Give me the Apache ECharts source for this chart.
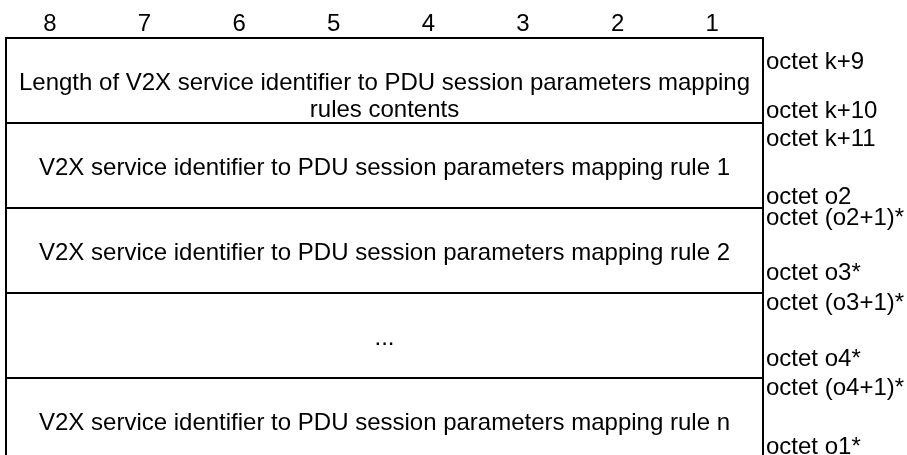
<!DOCTYPE html>
<html>
<head>
<meta charset="utf-8">
<script src="https://cdn.jsdelivr.net/npm/echarts@6/dist/echarts.min.js"></script>
<style>html,body{margin:0;padding:0;background:#fff;}#c{width:907px;height:455px;}</style>
</head>
<body>
<div id="c"></div>
<script>
var bitLabels = ['8','7','6','5','4','3','2','1'];
var rowTexts = [
  'Length of V2X service identifier to PDU session parameters mapping\nrules contents',
  'V2X service identifier to PDU session parameters mapping rule 1',
  'V2X service identifier to PDU session parameters mapping rule 2',
  '...',
  'V2X service identifier to PDU session parameters mapping rule n'
];
var octetTop = ['octet k+9','octet k+11','octet (o2+1)*','octet (o3+1)*','octet (o4+1)*'];
var octetBottom = ['octet k+10','octet o2','octet o3*','octet o4*','octet o1*'];

var FONT = 'Liberation Sans, Arial, sans-serif';
var FS = 24;
// layout offsets (pixels) for octet labels relative to row top / bottom
var topOff = [24, 16, 10, 10, 10];
var botOff = [12, 11, 20, 19, 16];

var chart = echarts.init(document.getElementById('c'), null, {renderer: 'canvas'});
chart.setOption({
  animation: false,
  backgroundColor: '#fff',
  grid: {left: 6, right: 144, top: 38, height: 425, outerBoundsMode: 'none', containLabel: false},
  xAxis: [
    {type: 'category', data: bitLabels, position: 'top', boundaryGap: true,
     axisLine: {show: false}, axisTick: {show: false}, splitLine: {show: false},
     axisLabel: {show: true, margin: 2, color: '#000', fontSize: FS, fontFamily: FONT, padding: [0, 7, 0, 0]}},
    {type: 'value', min: 0, max: 8, show: false}
  ],
  yAxis: {type: 'value', min: 0, max: rowTexts.length, inverse: true, show: false},
  series: [{
    type: 'custom',
    xAxisIndex: 1,
    yAxisIndex: 0,
    clip: false,
    data: rowTexts.map(function (t, i) { return [i]; }),
    renderItem: function (params, api) {
      var i = api.value(0);
      var p0 = api.coord([0, i]);
      var p1 = api.coord([8, i + 1]);
      var cx = (p0[0] + p1[0]) / 2;
      var cy = (p0[1] + p1[1]) / 2;
      var lh = 27;
      return {
        type: 'group',
        children: [
          {type: 'rect', shape: {x: p0[0], y: p0[1], width: p1[0] - p0[0], height: p1[1] - p0[1]},
           style: {fill: 'none', stroke: '#000', lineWidth: 2}},
          {type: 'text', style: {x: cx, y: cy + 3 - lh / 2, text: rowTexts[i], align: 'center', verticalAlign: 'top',
            lineHeight: lh, fontSize: FS, fontFamily: FONT, fill: '#000'}},
          {type: 'text', style: {x: p1[0] + 3, y: p0[1] + topOff[i], text: octetTop[i], align: 'left', verticalAlign: 'middle',
            fontSize: FS, fontFamily: FONT, fill: '#000'}},
          {type: 'text', style: {x: p1[0] + 3, y: p1[1] - botOff[i], text: octetBottom[i], align: 'left', verticalAlign: 'middle',
            fontSize: FS, fontFamily: FONT, fill: '#000'}}
        ]
      };
    }
  }]
});
</script>
</body>
</html>
